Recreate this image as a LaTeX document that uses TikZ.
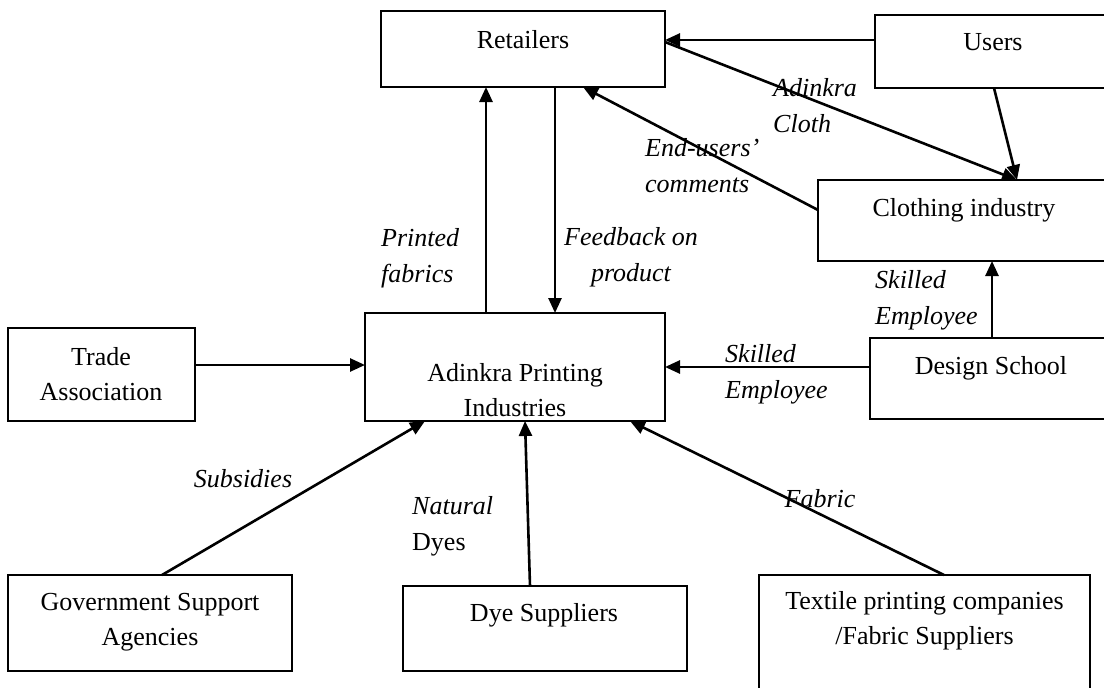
\documentclass[tikz,border=0pt]{standalone}
\usepackage{fontspec}
\setmainfont{Liberation Serif}
\usetikzlibrary{arrows.meta}
\tikzset{
  box/.style={draw, line width=1.3pt, inner sep=0pt, outer sep=0pt},
  txt/.style={inner sep=0pt, font=\fontsize{26}{35}\selectfont, align=center},
  lbl/.style={inner sep=0pt, font=\fontsize{26}{36}\selectfont\itshape},
  arr/.style={line width=2.6pt, -{Triangle[length=15pt,width=13pt]}}
}
\begin{document}
\begin{tikzpicture}[x=1pt,y=-1pt]
\useasboundingbox (0,0) rectangle (1104,688);
\clip (0,0) rectangle (1104,688);
% boxes
\node[box, minimum width=284pt, minimum height=76pt] (ret) at (523,49) {};
\node[box, minimum width=236pt, minimum height=73pt] (usr) at (993,51.5) {};
\node[box, minimum width=292pt, minimum height=81pt] (clo) at (964,220.5) {};
\node[box, minimum width=187pt, minimum height=93pt] (tra) at (101.5,374.5) {};
\node[box, minimum width=300pt, minimum height=108pt] (adk) at (515,367) {};
\node[box, minimum width=242pt, minimum height=81pt] (des) at (991,378.5) {};
\node[box, minimum width=284pt, minimum height=96pt] (gov) at (150,623) {};
\node[box, minimum width=284pt, minimum height=85pt] (dye) at (545,628.5) {};
\node[box, minimum width=331pt, minimum height=125pt] (tex) at (924.5,637.5) {};
% box texts
\node[txt] (retT) at (523,40) {Retailers};
\node[txt] (usrT) at (993,42) {Users};
\node[txt] (cloT) at (964,210) {Clothing industry};
\node[txt] (traT) at (101,374) {Trade\\Association};
\node[txt] (adkT) at (515,390) {Adinkra Printing\\Industries};
\node[txt] (desT) at (991,368) {Design School};
\node[txt] (govT) at (150,622) {Government Support\\Agencies};
\node[txt] (dyeT) at (544,615) {Dye Suppliers};
\node[txt] (texT) at (924.5,621) {Textile printing companies\\/Fabric Suppliers};
% connectors
\draw[arr] ([yshift=11.5pt]usr.west) -- ([yshift=11.5pt]usr.west -| ret.east);
\draw[arr] ([yshift=7pt]ret.east) -- ([xshift=53pt]clo.north);
\draw[arr] ([xshift=1pt]usr.south) -- ([xshift=53pt]clo.north);
\draw[arr] ([yshift=10.5pt]clo.west) -- ([xshift=60pt]ret.south);
\draw[arr] ([xshift=1pt]des.north) -- ([xshift=1pt]des.north |- clo.south);
\draw[arr] ([xshift=-29pt]adk.north) -- ([xshift=-29pt]adk.north |- ret.south);
\draw[arr] ([xshift=32pt]ret.south) -- ([xshift=32pt]ret.south |- adk.north);
\draw[arr] ([yshift=9.5pt]tra.east) -- ([yshift=9.5pt]tra.east -| adk.west);
\draw[arr] ([yshift=11.5pt]des.west) -- ([yshift=11.5pt]des.west -| adk.east);
\draw[arr] ([xshift=12pt]gov.north) -- ([xshift=-90pt]adk.south);
\draw[arr] ([xshift=-15pt]dye.north) -- ([xshift=10pt]adk.south);
\draw[arr] ([xshift=19.5pt]tex.north) -- ([xshift=115pt]adk.south);
% labels
\node[lbl, anchor=west, align=left] (l1) at (773,106) {Adinkra\\Cloth};
\node[lbl, anchor=west, align=left] (l2) at (645,166) {End-users'\\comments};
\node[lbl, anchor=west, align=left] (l3) at (381,258) {Printed\\fabrics};
\node[lbl, align=center] (l4) at (631,257) {Feedback on\\product};
\node[lbl, anchor=west, align=left] (l5) at (875,300) {Skilled\\Employee};
\node[lbl, anchor=west, align=left] (l6) at (725,374) {Skilled\\Employee};
\node[lbl] (l7) at (243,479) {Subsidies};
\node[lbl, anchor=west, align=left] (l8) at (412,526) {Natural\\{\upshape Dyes}};
\node[lbl] (l9) at (820,499) {Fabric};
\end{tikzpicture}
\end{document}
